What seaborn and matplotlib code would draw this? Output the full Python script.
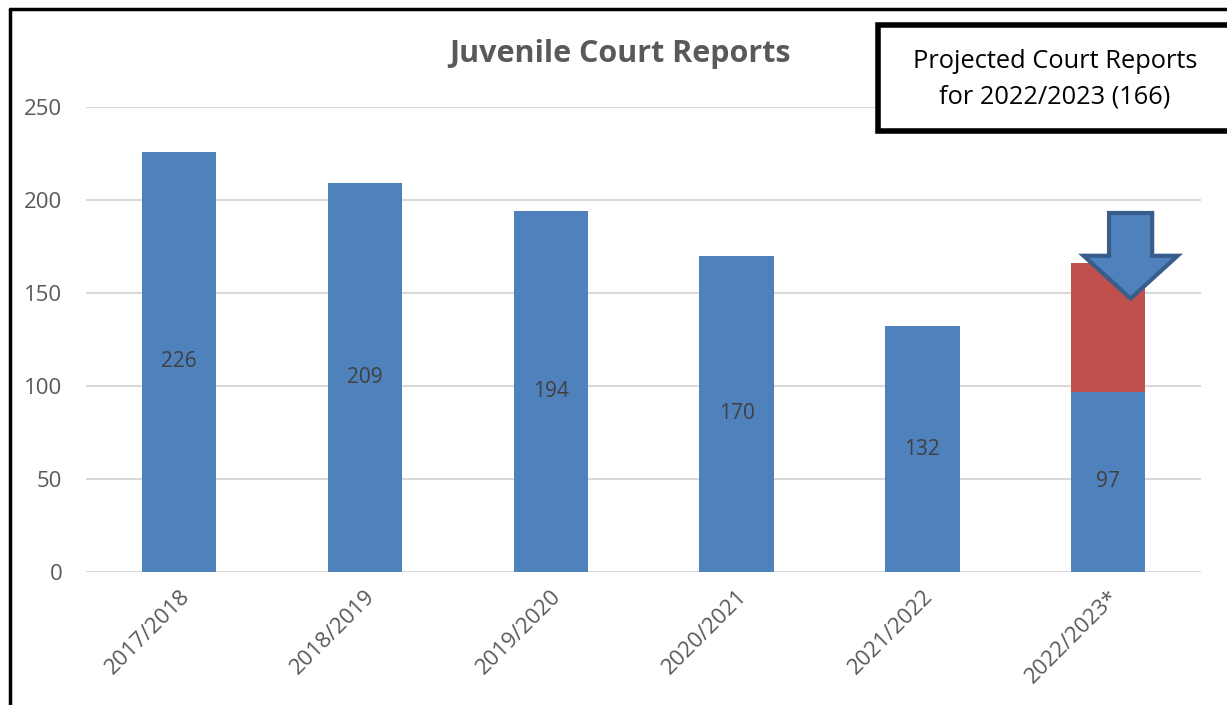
import matplotlib.pyplot as plt
import seaborn as sns
import pandas as pd
from matplotlib.patches import Polygon, Rectangle
from matplotlib.lines import Line2D

# --- data ---
years = ['2017/2018', '2018/2019', '2019/2020', '2020/2021', '2021/2022', '2022/2023*']
reports = [226, 209, 194, 170, 132, 97]
projected_year = ['2022/2023*']
projected_total = [166]

blue = '#4F81BD'
red = '#C0504D'
grey_text = '#595959'

df = pd.DataFrame({'Year': years, 'Reports': reports})
df_proj = pd.DataFrame({'Year': projected_year, 'Reports': projected_total})

sns.set_style('white')
plt.rcParams['font.family'] = ['Open Sans', 'DejaVu Sans']

fig = plt.figure(figsize=(12.27, 7.05), dpi=100)
ax = fig.add_axes([0.0701, 0.1887, 0.9089, 0.6596])

# projected total behind, actual on top
sns.barplot(data=df_proj, x='Year', y='Reports', order=years, color=red,
            saturation=1, width=0.4, linewidth=0, ax=ax)
sns.barplot(data=df, x='Year', y='Reports', order=years, color=blue,
            saturation=1, width=0.4, linewidth=0, ax=ax)
ax.bar_label(ax.containers[-1], label_type='center', fontsize=15, color='#404040')

ax.set_ylim(0, 250)
ax.set_xlim(-0.5, len(years) - 0.5)
ax.set_yticks(range(0, 251, 50))
ax.yaxis.grid(True, color='#D9D9D9', linewidth=1.5)
ax.set_axisbelow(True)
for s in ax.spines.values():
    s.set_visible(False)
ax.tick_params(axis='y', length=0, pad=17, labelsize=16, labelcolor=grey_text)
ax.tick_params(axis='x', length=0, pad=10, labelsize=16, labelcolor=grey_text)
plt.setp(ax.get_xticklabels(), rotation=45, ha='right', rotation_mode='anchor')
ax.set_xlabel('')
ax.set_ylabel('')

fig.text(0.505, 0.924, 'Juvenile Court Reports', ha='center', va='center',
         fontsize=22, fontweight='bold', color=grey_text)

# down arrow over the projected bar (data coords)
cx = 5.12
arrow = Polygon([(cx - 0.116, 193), (cx + 0.116, 193), (cx + 0.116, 170),
                 (cx + 0.253, 170), (cx, 147), (cx - 0.253, 170),
                 (cx - 0.116, 170)], closed=True, facecolor=blue,
                edgecolor='#385D8A', linewidth=3, zorder=5, clip_on=False)
ax.add_patch(arrow)

# annotation box top right
box = Rectangle((878 / 1227, 1 - 131 / 705), 0.3, 106 / 705, transform=fig.transFigure,
                facecolor='white', edgecolor='black', linewidth=4, zorder=10)
fig.patches.append(box)
fig.text(1055 / 1227, 1 - 79 / 705, 'Projected Court Reports\nfor 2022/2023 (166)',
         ha='center', va='center', fontsize=18.3, color='black', linespacing=1.55, zorder=11)

# outer frame lines (left and top)
fig.add_artist(Line2D([10 / 1227, 10 / 1227], [0, 1 - 9 / 705], color='black',
                      linewidth=2.5, transform=fig.transFigure))
fig.add_artist(Line2D([10 / 1227, 1], [1 - 9 / 705, 1 - 9 / 705], color='black',
                      linewidth=2.5, transform=fig.transFigure))

plt.savefig('out.png', dpi=100)
